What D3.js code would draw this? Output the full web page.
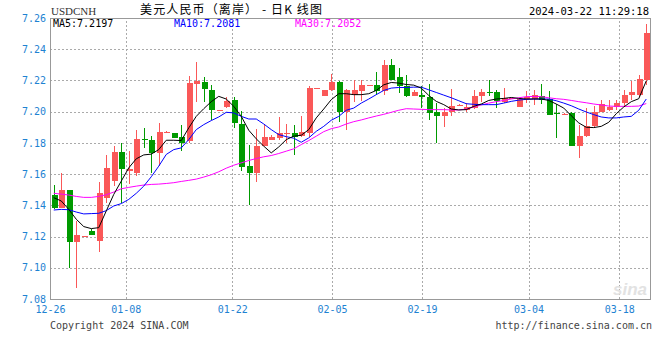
<!DOCTYPE html>
<html>
<head>
<meta charset="utf-8">
<script src="https://cdn.jsdelivr.net/npm/d3@7"></script>
<style>
  body { margin: 0; background: #fff; }
  .mono { font-family: 'DejaVu Sans Mono', monospace; font-size: 10px; }
</style>
</head>
<body>
<div id="plot"></div>
<script>
// daily candles, 12-26 .. 03-22
var open = [7.1466, 7.1385, 7.1496, 7.1162, 7.1203, 7.1234, 7.1172, 7.1447, 7.1555, 7.1743,
  7.1618, 7.1604, 7.1828, 7.1821, 7.1736, 7.1870, 7.1864, 7.1838, 7.1810, 7.2177,
  7.2191, 7.2140, 7.2011, 7.2028, 7.2077, 7.1923, 7.1651, 7.1604, 7.1783, 7.1821,
  7.1830, 7.1862, 7.1864, 7.1843, 7.1864, 7.2149, 7.2098, 7.2136, 7.2191, 7.1996,
  7.2108, 7.2134, 7.2170, 7.2172, 7.2130, 7.2300, 7.2219, 7.2166, 7.2102, 7.2109,
  7.2094, 7.2000, 7.1974, 7.1996, 7.2040, 7.2009, 7.2023, 7.2098, 7.2125, 7.2128,
  7.2060, 7.2083, 7.2028, 7.2081, 7.2081, 7.2102, 7.2081, 7.1992, 7.1985, 7.1991,
  7.1783, 7.1843, 7.1911, 7.2000, 7.2009, 7.2030, 7.2055, 7.2106, 7.2109, 7.2200]
var high = [7.1530, 7.1604, 7.1496, 7.1300, 7.1206, 7.1251, 7.1549, 7.1725, 7.1783, 7.1800,
  7.1751, 7.1881, 7.1896, 7.1842, 7.1928, 7.1874, 7.1864, 7.1917, 7.2230, 7.2319,
  7.2221, 7.2172, 7.2013, 7.2094, 7.2094, 7.2002, 7.1789, 7.1891, 7.1923, 7.1853,
  7.1966, 7.1923, 7.1917, 7.1974, 7.2166, 7.2153, 7.2098, 7.2243, 7.2195, 7.2145,
  7.2200, 7.2200, 7.2174, 7.2255, 7.2332, 7.2338, 7.2281, 7.2236, 7.2136, 7.2166,
  7.2179, 7.2055, 7.2021, 7.2145, 7.2047, 7.2055, 7.2136, 7.2147, 7.2204, 7.2140,
  7.2151, 7.2087, 7.2083, 7.2130, 7.2136, 7.2179, 7.2130, 7.2050, 7.1991, 7.1996,
  7.1917, 7.2023, 7.2038, 7.2072, 7.2077, 7.2077, 7.2140, 7.2194, 7.2236, 7.2562]
var low = [7.1375, 7.1380, 7.0996, 7.0868, 7.1200, 7.1210, 7.1098, 7.1417, 7.1523, 7.1417,
  7.1534, 7.1587, 7.1768, 7.1609, 7.1655, 7.1868, 7.1830, 7.1745, 7.1800, 7.2060,
  7.2064, 7.1949, 7.2011, 7.2023, 7.1896, 7.1619, 7.1402, 7.1549, 7.1783, 7.1821,
  7.1817, 7.1800, 7.1721, 7.1838, 7.1838, 7.2147, 7.2098, 7.2130, 7.1932, 7.1881,
  7.2060, 7.2066, 7.2168, 7.2108, 7.2108, 7.2200, 7.2119, 7.2094, 7.2102, 7.2023,
  7.1949, 7.1800, 7.1902, 7.1974, 7.2036, 7.1996, 7.2017, 7.2060, 7.2102, 7.2023,
  7.2055, 7.2081, 7.2028, 7.2055, 7.2045, 7.2051, 7.1981, 7.1832, 7.1981, 7.1779,
  7.1704, 7.1838, 7.1896, 7.1996, 7.2002, 7.2009, 7.2038, 7.2072, 7.2094, 7.2172]
var close = [7.1381, 7.1496, 7.1162, 7.1208, 7.1205, 7.1210, 7.1481, 7.1636, 7.1743, 7.1630,
  7.1630, 7.1828, 7.1823, 7.1736, 7.1872, 7.1872, 7.1830, 7.1800, 7.2183, 7.2194,
  7.2145, 7.2009, 7.2013, 7.2070, 7.1928, 7.1645, 7.1604, 7.1783, 7.1840, 7.1840,
  7.1864, 7.1864, 7.1838, 7.1872, 7.2151, 7.2151, 7.2140, 7.2191, 7.1996, 7.2140,
  7.2140, 7.2168, 7.2172, 7.2130, 7.2300, 7.2204, 7.2162, 7.2102, 7.2123, 7.2091,
  7.1991, 7.1974, 7.2000, 7.2038, 7.2042, 7.2030, 7.2102, 7.2128, 7.2121, 7.2066,
  7.2085, 7.2085, 7.2083, 7.2094, 7.2106, 7.2077, 7.1981, 7.1990, 7.1987, 7.1783,
  7.1847, 7.1911, 7.2000, 7.2051, 7.2030, 7.2055, 7.2109, 7.2123, 7.2209, 7.2506]

// moving averages as drawn
var ma5 = [7.1449, 7.1428, 7.1374, 7.1311, 7.1264, 7.1251, 7.1257, 7.1364, 7.1470, 7.1555,
  7.1640, 7.1698, 7.1723, 7.1728, 7.1757, 7.1817, 7.1817, 7.1815, 7.1896, 7.1970,
  7.2019, 7.2064, 7.2098, 7.2081, 7.2034, 7.1970, 7.1881, 7.1826, 7.1779, 7.1736,
  7.1774, 7.1821, 7.1843, 7.1849, 7.1885, 7.1960, 7.2017, 7.2077, 7.2115, 7.2115,
  7.2109, 7.2109, 7.2115, 7.2136, 7.2172, 7.2187, 7.2183, 7.2174, 7.2170, 7.2151,
  7.2104, 7.2066, 7.2045, 7.2017, 7.2011, 7.2013, 7.2034, 7.2049, 7.2072, 7.2081,
  7.2085, 7.2091, 7.2085, 7.2081, 7.2081, 7.2081, 7.2072, 7.2049, 7.2023, 7.1974,
  7.1928, 7.1900, 7.1898, 7.1906, 7.1932, 7.1987, 7.2030, 7.2064, 7.2083, 7.2197]
var ma10 = [7.1370, 7.1374, 7.1372, 7.1357, 7.1345, 7.1347, 7.1349, 7.1366, 7.1396, 7.1411,
  7.1438, 7.1477, 7.1523, 7.1583, 7.1651, 7.1726, 7.1757, 7.1768, 7.1821, 7.1885,
  7.1917, 7.1943, 7.1966, 7.1996, 7.1992, 7.1970, 7.1953, 7.1953, 7.1921, 7.1885,
  7.1853, 7.1840, 7.1830, 7.1804, 7.1832, 7.1874, 7.1906, 7.1945, 7.1970, 7.2009,
  7.2023, 7.2055, 7.2081, 7.2109, 7.2136, 7.2151, 7.2155, 7.2155, 7.2157, 7.2157,
  7.2140, 7.2123, 7.2106, 7.2089, 7.2070, 7.2051, 7.2047, 7.2045, 7.2045, 7.2045,
  7.2055, 7.2066, 7.2074, 7.2079, 7.2081, 7.2081, 7.2081, 7.2070, 7.2055, 7.2038,
  7.2017, 7.1998, 7.1981, 7.1966, 7.1960, 7.1960, 7.1966, 7.1970, 7.2009, 7.2081]
var ma30 = [7.1477, 7.1472, 7.1466, 7.1457, 7.1451, 7.1451, 7.1457, 7.1468, 7.1485, 7.1506,
  7.1515, 7.1523, 7.1530, 7.1534, 7.1536, 7.1540, 7.1545, 7.1553, 7.1560, 7.1568,
  7.1581, 7.1596, 7.1615, 7.1638, 7.1657, 7.1672, 7.1687, 7.1700, 7.1711, 7.1719,
  7.1732, 7.1747, 7.1762, 7.1789, 7.1815, 7.1843, 7.1872, 7.1891, 7.1902, 7.1921,
  7.1936, 7.1947, 7.1960, 7.1972, 7.1983, 7.1996, 7.2009, 7.2019, 7.2017, 7.2015,
  7.2013, 7.2013, 7.2013, 7.2011, 7.2011, 7.2017, 7.2030, 7.2043, 7.2055, 7.2064,
  7.2072, 7.2081, 7.2089, 7.2096, 7.2098, 7.2096, 7.2089, 7.2083, 7.2079, 7.2072,
  7.2064, 7.2057, 7.2049, 7.2043, 7.2036, 7.2034, 7.2034, 7.2034, 7.2036, 7.2052]

var yTicks = [7.08, 7.10, 7.12, 7.14, 7.16, 7.18, 7.20, 7.22, 7.24, 7.26]
var xTickLabels = ['12-26', '01-08', '01-22', '02-05', '02-19', '03-04', '03-18']
var xTickPos = [-0.5, 9.6, 23.8, 37.1, 49.1, 63.3, 75.4]   // in candle-index units
var maLabels = ['MA5:7.2197', 'MA10:7.2081', 'MA30:7.2052']
var maColors = ['#000000', '#0000ff', '#ff00ff']

var upColor = '#fa5858'
var downColor = '#009a00'
var axisBlue = '#1e82d2'

var margin = { top: 18, right: 10, bottom: 61, left: 50 }
var width = 660 - margin.left - margin.right
var height = 360 - margin.top - margin.bottom

var n = close.length
var xScale = d3.scaleLinear().domain([-0.5, n - 0.5]).range([0, width])
var yScale = d3.scaleLinear().domain([7.08, 7.26]).range([height, 0])
var step = xScale(1) - xScale(0)
var bodyW = step * 0.8

var svg = d3
  .select('#plot')
  .append('svg')
  .attr('width', 660)
  .attr('height', 360)
  .style('display', 'block')

var plot = svg
  .append('g')
  .attr('transform', 'translate(' + margin.left + ',' + margin.top + ')')

// horizontal grid
var yGrid = plot
  .append('g')
  .call(d3.axisLeft(yScale).tickValues(yTicks.slice(1, -1)).tickSize(-width).tickFormat(''))
yGrid.select('.domain').remove()
yGrid.selectAll('line').attr('stroke', '#aaa').attr('stroke-dasharray', '2,2').attr('shape-rendering', 'crispEdges')

// vertical grid
var xGrid = plot
  .append('g')
  .call(d3.axisBottom(xScale).tickValues(xTickPos.slice(1)).tickSize(-height).tickFormat(''))
  .attr('transform', 'translate(0,' + height + ')')
xGrid.select('.domain').remove()
xGrid.selectAll('line').attr('stroke', '#aaa').attr('stroke-dasharray', '2,2').attr('shape-rendering', 'crispEdges')

// y labels
var yAxis = plot
  .append('g')
  .call(d3.axisLeft(yScale).tickValues(yTicks).tickSize(0).tickPadding(4).tickFormat(d3.format('.2f')))
yAxis.select('.domain').remove()
yAxis.selectAll('text').attr('class', 'mono').attr('fill', axisBlue).style('font-size', '10px')

// x labels
var xAxis = plot
  .append('g')
  .attr('transform', 'translate(0,' + height + ')')
  .call(d3.axisBottom(xScale).tickValues(xTickPos).tickSize(0).tickPadding(7).tickFormat(function(d, i) {
    return xTickLabels[i]
  }))
xAxis.select('.domain').remove()
xAxis.selectAll('text').attr('class', 'mono').attr('fill', axisBlue).style('font-size', '10px')

// sina watermark
plot
  .append('text')
  .attr('x', width - 3)
  .attr('y', height - 4)
  .attr('text-anchor', 'end')
  .attr('font-family', 'Liberation Sans, sans-serif')
  .attr('font-weight', 'bold')
  .attr('font-style', 'italic')
  .attr('font-size', 17)
  .attr('fill', '#e2e2e2')
  .text('sina')

var clip = plot.append('clipPath').attr('id', 'clip')
clip.append('rect').attr('width', width).attr('height', height)

var candles = plot
  .append('g')
  .attr('clip-path', 'url(#clip)')
  .selectAll('g')
  .data(d3.range(n))
  .enter()
  .append('g')

candles
  .append('line')
  .attr('x1', function(i) { return Math.round(xScale(i)) + 0.5 })
  .attr('x2', function(i) { return Math.round(xScale(i)) + 0.5 })
  .attr('y1', function(i) { return yScale(high[i]) })
  .attr('y2', function(i) { return yScale(low[i]) })
  .attr('stroke', function(i) { return close[i] >= open[i] ? upColor : downColor })
  .attr('shape-rendering', 'crispEdges')

candles
  .append('rect')
  .attr('x', function(i) { return Math.round(xScale(i)) + 0.5 - bodyW / 2 })
  .attr('width', bodyW)
  .attr('y', function(i) { return yScale(Math.max(open[i], close[i])) })
  .attr('height', function(i) {
    return Math.max(1, Math.abs(yScale(open[i]) - yScale(close[i])))
  })
  .attr('fill', function(i) { return close[i] >= open[i] ? upColor : downColor })
  .attr('shape-rendering', 'crispEdges')

// moving average lines
var maLine = d3
  .line()
  .x(function(d, i) { return xScale(i) })
  .y(function(d) { return yScale(d) })

;[ma30, ma10, ma5].forEach(function(series, k) {
  plot
    .append('path')
    .datum(series)
    .attr('clip-path', 'url(#clip)')
    .attr('d', maLine)
    .attr('fill', 'none')
    .attr('stroke', maColors[2 - k])
    .attr('stroke-width', 1)
})

// frame
plot
  .append('rect')
  .attr('x', 0)
  .attr('y', 0)
  .attr('width', width)
  .attr('height', height)
  .attr('fill', 'none')
  .attr('stroke', '#999')
  .attr('shape-rendering', 'crispEdges')

// MA legend inside the top of the frame
var maX = [3, 124, 245]
maLabels.forEach(function(t, i) {
  plot
    .append('text')
    .attr('class', 'mono')
    .attr('x', maX[i])
    .attr('y', 9)
    .attr('fill', maColors[i])
    .text(t)
})

// header
svg
  .append('text')
  .attr('x', 51)
  .attr('y', 15)
  .attr('font-family', 'Liberation Serif, serif')
  .attr('font-size', 11)
  .attr('fill', '#333')
  .text('USDCNH')

svg
  .append('text')
  .attr('x', 140)
  .attr('y', 14)
  .attr('font-family', 'Noto Sans CJK SC, sans-serif')
  .attr('font-size', 12)
  .attr('textLength', 182)
  .attr('lengthAdjust', 'spacing')
  .attr('fill', '#000')
  .text('美元人民币（离岸） - 日K 线图')

svg
  .append('text')
  .attr('class', 'mono')
  .attr('x', 649)
  .attr('y', 15)
  .attr('text-anchor', 'end')
  .attr('fill', '#000')
  .style('font-size', '10.5px')
  .text('2024-03-22 11:29:18')

// footer
svg
  .append('text')
  .attr('class', 'mono')
  .attr('x', 50)
  .attr('y', 329)
  .attr('fill', '#444')
  .text('Copyright 2024 SINA.COM')

svg
  .append('text')
  .attr('class', 'mono')
  .attr('x', 652)
  .attr('y', 329)
  .attr('text-anchor', 'end')
  .attr('fill', '#444')
  .text('http://finance.sina.com.cn')
</script>
</body>
</html>
